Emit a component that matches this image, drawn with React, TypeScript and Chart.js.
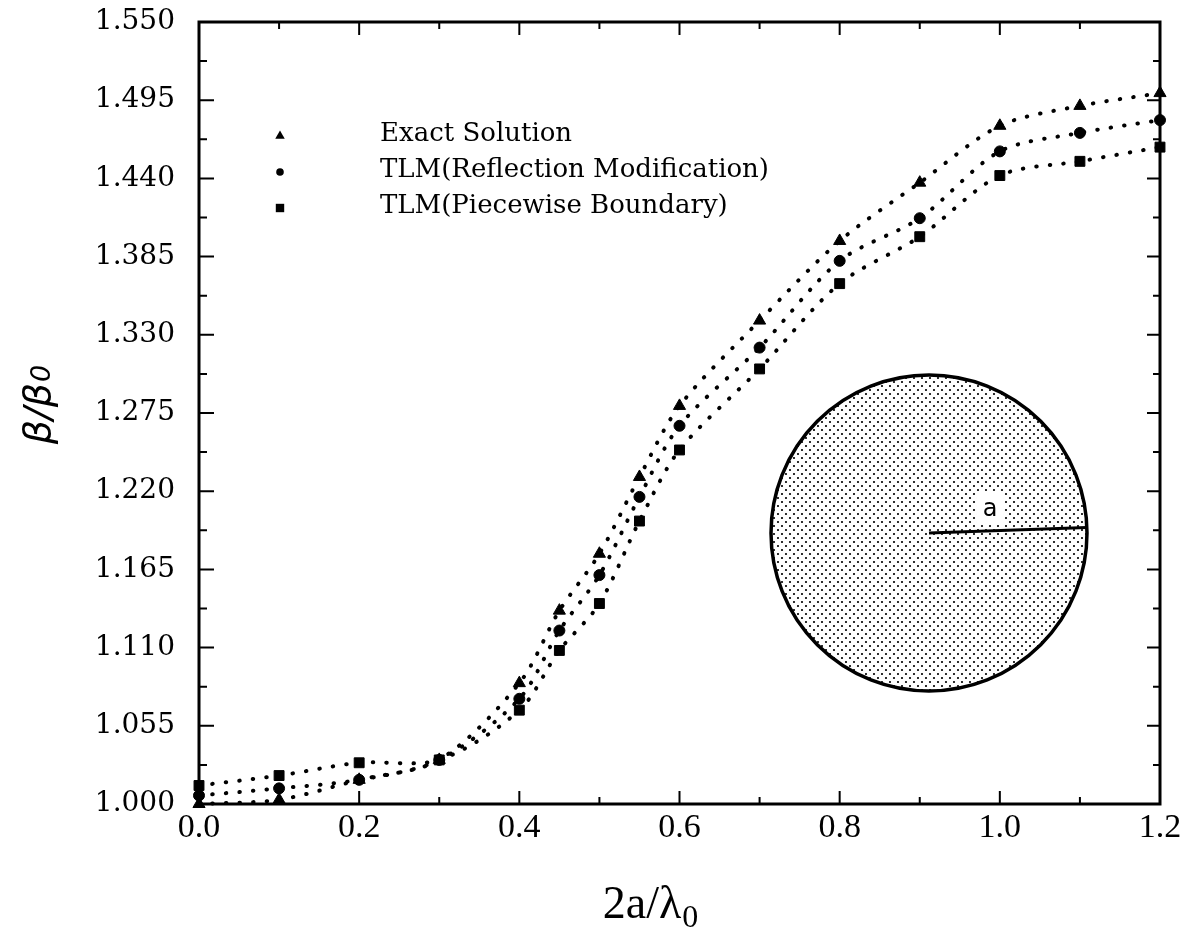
import React, { useEffect, useRef } from 'react';
import { Chart, registerables } from 'chart.js';

Chart.register(...registerables);

// ---- Data ----
const xValues = [0, 0.1, 0.2, 0.3, 0.4, 0.45, 0.5, 0.55, 0.6, 0.7, 0.8, 0.9, 1.0, 1.1, 1.2];
const exactSolution = [1.000, 1.003, 1.017, 1.031, 1.085, 1.136, 1.176, 1.230, 1.280, 1.340, 1.396, 1.437, 1.477, 1.491, 1.500];
const tlmReflection = [1.006, 1.011, 1.017, 1.031, 1.074, 1.122, 1.161, 1.216, 1.266, 1.321, 1.382, 1.412, 1.459, 1.472, 1.481];
const tlmPiecewise = [1.013, 1.020, 1.029, 1.031, 1.066, 1.108, 1.141, 1.199, 1.249, 1.306, 1.366, 1.399, 1.442, 1.452, 1.462];

const seriesLabels = ['Exact Solution', 'TLM(Reflection Modification)', 'TLM(Piecewise Boundary)'];
const seriesPointStyles = ['triangle', 'circle', 'rect'];

const xTickValues = [0, 0.2, 0.4, 0.6, 0.8, 1.0, 1.2];
const yTickValues = [1.000, 1.055, 1.110, 1.165, 1.220, 1.275, 1.330, 1.385, 1.440, 1.495, 1.550];

const xTitle = '2a/λ';
const xTitleSub = '0';
const yTitle = 'β/β';
const yTitleSub = '0';

function midpoints(arr: number[]): number[] {
  const out: number[] = [];
  for (let i = 0; i < arr.length - 1; i++) out.push((arr[i] + arr[i + 1]) / 2);
  return out;
}

function drawSymbol(ctx: CanvasRenderingContext2D, style: string, x: number, y: number, r: number) {
  ctx.beginPath();
  if (style === 'triangle') {
    ctx.moveTo(x, y - r);
    ctx.lineTo(x + r * 0.866, y + r * 0.5);
    ctx.lineTo(x - r * 0.866, y + r * 0.5);
    ctx.closePath();
  } else if (style === 'circle') {
    ctx.arc(x, y, r, 0, Math.PI * 2);
  } else {
    ctx.rect(x - r, y - r, 2 * r, 2 * r);
  }
  ctx.fill();
}

function makeStipple(): CanvasPattern | string {
  const pc = document.createElement('canvas');
  pc.width = 8;
  pc.height = 8;
  const g = pc.getContext('2d');
  if (!g) return '#888';
  g.fillStyle = '#000';
  g.beginPath();
  g.arc(2, 2, 1.1, 0, Math.PI * 2);
  g.arc(6, 6, 1.1, 0, Math.PI * 2);
  g.fill();
  const ctx = document.createElement('canvas').getContext('2d');
  return (ctx && ctx.createPattern(pc, 'repeat')) || '#888';
}

const framePlugin = {
  id: 'paperFrame',
  beforeDatasetsDraw(chart: any) {
    const { ctx, chartArea } = chart;
    const { left, right, top, bottom } = chartArea;
    const xs = chart.scales.x;
    const ys = chart.scales.y;
    ctx.save();
    ctx.strokeStyle = '#000';
    ctx.lineWidth = 3;
    ctx.strokeRect(left, top, right - left, bottom - top);

    ctx.lineWidth = 2;
    ctx.beginPath();
    // x ticks (bottom and top)
    xTickValues.forEach((v) => {
      const px = xs.getPixelForValue(v);
      ctx.moveTo(px, bottom); ctx.lineTo(px, bottom - 13);
      ctx.moveTo(px, top); ctx.lineTo(px, top + 13);
    });
    midpoints(xTickValues).forEach((v) => {
      const px = xs.getPixelForValue(v);
      ctx.moveTo(px, bottom); ctx.lineTo(px, bottom - 7);
      ctx.moveTo(px, top); ctx.lineTo(px, top + 7);
    });
    // y ticks (left and right)
    yTickValues.forEach((v) => {
      const py = ys.getPixelForValue(v);
      ctx.moveTo(left, py); ctx.lineTo(left + 15, py);
      ctx.moveTo(right, py); ctx.lineTo(right - 13, py);
    });
    midpoints(yTickValues).forEach((v) => {
      const py = ys.getPixelForValue(v);
      ctx.moveTo(left, py); ctx.lineTo(left + 8, py);
      ctx.moveTo(right, py); ctx.lineTo(right - 7, py);
    });
    ctx.stroke();

    // inset sketch: circular cross-section of radius a
    const cx = left + 730;
    const cy = top + 511;
    const r = 158;
    ctx.beginPath();
    ctx.arc(cx, cy, r, 0, Math.PI * 2);
    ctx.fillStyle = chart.$stipple || '#888';
    ctx.fill();
    ctx.lineWidth = 3.5;
    ctx.stroke();
    const ang = (-2 * Math.PI) / 180;
    const ex = cx + r * Math.cos(ang);
    const ey = cy + r * Math.sin(ang);
    ctx.fillStyle = '#fff';
    ctx.fillRect(cx + 48, cy - 40, 26, 30);
    ctx.beginPath();
    ctx.moveTo(cx, cy);
    ctx.lineTo(ex, ey);
    ctx.lineWidth = 3;
    ctx.stroke();
    ctx.fillStyle = '#000';
    ctx.font = '24px "DejaVu Sans"';
    ctx.textAlign = 'center';
    ctx.textBaseline = 'alphabetic';
    ctx.fillText('a', cx + 61, cy - 17);
    ctx.restore();
  },
  afterDatasetsDraw(chart: any) {
    const { ctx, chartArea } = chart;
    const { left, top, bottom } = chartArea;
    ctx.save();
    ctx.fillStyle = '#000';
    // legend inside the plot
    const symR = [5.5, 3.8, 4.2];
    seriesLabels.forEach((label, i) => {
      const rowY = top + 112 + i * 36;
      drawSymbol(ctx, seriesPointStyles[i], left + 81, rowY + 2, symR[i]);
      ctx.font = '26px "DejaVu Serif"';
      ctx.textAlign = 'left';
      ctx.textBaseline = 'middle';
      ctx.fillText(label, left + 181, rowY);
    });

    // x axis title with subscript
    ctx.textBaseline = 'alphabetic';
    ctx.textAlign = 'left';
    ctx.font = '46px "Liberation Serif"';
    const mainW = ctx.measureText(xTitle).width;
    ctx.font = '32px "Liberation Serif"';
    const subW = ctx.measureText(xTitleSub).width;
    const tx = 650 - (mainW + subW) / 2;
    const ty = 918;
    ctx.font = '46px "Liberation Serif"';
    ctx.fillText(xTitle, tx, ty);
    ctx.font = '32px "Liberation Serif"';
    ctx.fillText(xTitleSub, tx + mainW + 1, ty + 9);

    // y axis title (rotated) with subscript
    ctx.save();
    ctx.translate(50, (top + bottom) / 2 - 8);
    ctx.rotate(-Math.PI / 2);
    ctx.font = 'italic 38px "DejaVu Sans"';
    const yMain = ctx.measureText(yTitle).width;
    ctx.font = 'italic 27px "DejaVu Sans"';
    const ySub = ctx.measureText(yTitleSub).width;
    const ox = -(yMain + ySub) / 2;
    ctx.font = 'italic 38px "DejaVu Sans"';
    ctx.fillText(yTitle, ox, 0);
    ctx.font = 'italic 27px "DejaVu Sans"';
    ctx.fillText(yTitleSub, ox + yMain + 1, 0);
    ctx.restore();
    ctx.restore();
  },
};

function makeDataset(label: string, values: number[], pointStyle: string, radius: number) {
  return {
    label,
    data: xValues.map((x, i) => ({ x, y: values[i] })),
    showLine: true,
    fill: false,
    borderColor: '#000',
    backgroundColor: '#000',
    borderWidth: 4,
    borderDash: [0.5, 13],
    borderCapStyle: 'round',
    tension: 0.3,
    pointStyle,
    pointRadius: radius,
    pointBorderWidth: 1,
    pointBorderColor: '#000',
    pointBackgroundColor: '#000',
    clip: false,
  };
}

export default function App() {
  const canvasRef = useRef<HTMLCanvasElement | null>(null);

  useEffect(() => {
    document.body.style.margin = '0';
    const canvas = canvasRef.current;
    if (!canvas) return;
    const chart: any = new Chart(canvas, {
      type: 'line',
      data: {
        datasets: [
          makeDataset(seriesLabels[0], exactSolution, seriesPointStyles[0], 7),
          makeDataset(seriesLabels[1], tlmReflection, seriesPointStyles[1], 5.5),
          makeDataset(seriesLabels[2], tlmPiecewise, seriesPointStyles[2], 7),
        ] as any,
      },
      options: {
        responsive: false,
        animation: false,
        devicePixelRatio: 1,
        layout: { autoPadding: false, padding: { left: 0, top: 22, right: 37, bottom: 0 } },
        plugins: {
          legend: { display: false },
          tooltip: { enabled: false },
          title: { display: false },
        },
        scales: {
          x: {
            type: 'linear',
            min: 0,
            max: 1.2,
            grid: { display: false, drawTicks: false },
            border: { display: false },
            afterBuildTicks: (s: any) => {
              s.ticks = xTickValues.map((v) => ({ value: v }));
            },
            afterFit: (s: any) => {
              s.height = 141;
              s.paddingLeft = 0;
              s.paddingRight = 0;
            },
            ticks: {
              autoSkip: false,
              maxRotation: 0,
              padding: 4,
              color: '#000',
              font: { family: '"Liberation Serif"', size: 34 },
              callback: (v: any) => Number(v).toFixed(1),
            },
          },
          y: {
            type: 'linear',
            min: 1.0,
            max: 1.55,
            grid: { display: false, drawTicks: false },
            border: { display: false },
            afterBuildTicks: (s: any) => {
              s.ticks = yTickValues.map((v) => ({ value: v }));
            },
            afterFit: (s: any) => {
              s.width = 199;
              s.paddingTop = 0;
              s.paddingBottom = 0;
            },
            ticks: {
              autoSkip: false,
              padding: 24,
              color: '#000',
              font: { family: '"DejaVu Serif"', size: 28 },
              callback: (v: any) => Number(v).toFixed(3),
            },
          },
        },
      } as any,
      plugins: [
        {
          id: 'stippleInit',
          beforeInit(c: any) {
            c.$stipple = makeStipple();
          },
        },
        framePlugin,
      ],
    });
    return () => {
      chart.destroy();
    };
  }, []);

  return (
    <div style={{ width: 1197, height: 945, background: '#fff' }}>
      <canvas ref={canvasRef} width={1197} height={945} style={{ display: 'block' }} />
    </div>
  );
}
